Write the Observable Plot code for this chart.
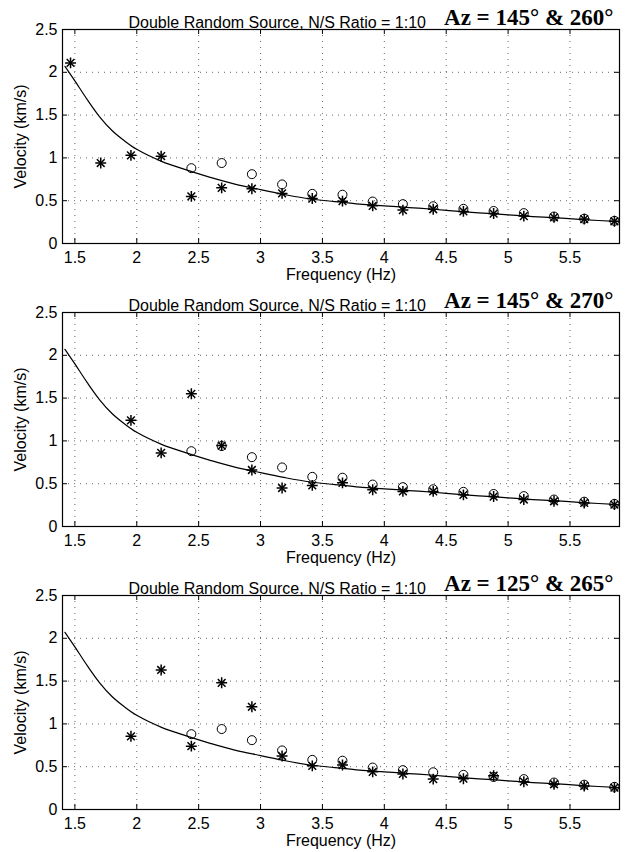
<!DOCTYPE html>
<html><head><meta charset="utf-8">
<script src="https://cdn.jsdelivr.net/npm/d3@7"></script>
<script src="https://cdn.jsdelivr.net/npm/@observablehq/plot@0.6"></script>
<style>body{margin:0;background:#fff;} #charts svg{display:block}</style>
</head><body><div id="charts"></div>
<script>
// Frequencies (Hz) of the measured points
const freq = [1.465,1.709,1.953,2.197,2.441,2.686,2.930,3.174,3.418,3.662,3.906,4.150,4.395,4.639,4.883,5.127,5.371,5.615,5.859];
// Open circles (same in all panels)
const circleV = [null,null,null,null,0.88,0.94,0.81,0.69,0.58,0.57,0.49,0.46,0.435,0.405,0.38,0.355,0.315,0.29,0.265];
// Asterisks per panel
const starV1 = [2.11,0.94,1.03,1.02,0.55,0.65,0.64,0.585,0.525,0.495,0.44,0.39,0.40,0.375,0.35,0.32,0.305,0.285,0.26];
const starV2 = [null,null,1.24,0.86,1.55,0.945,0.66,0.45,0.48,0.51,0.43,0.41,0.41,0.37,0.35,0.315,0.295,0.275,0.255];
const starV3 = [null,null,0.855,1.63,0.74,1.48,1.20,0.625,0.51,0.52,0.44,0.415,0.355,0.36,0.395,0.325,0.295,0.275,0.255];
// Theoretical dispersion curve
const curveF = [1.42,1.5,1.6,1.7,1.8,1.9,2.0,2.2,2.4,2.6,2.8,3.0,3.2,3.4,3.6,3.8,4.0,4.2,4.4,4.6,4.8,5.0,5.2,5.4,5.6,5.9];
const curveV = [2.07,1.90,1.68,1.48,1.32,1.20,1.10,0.96,0.86,0.77,0.69,0.63,0.57,0.52,0.49,0.46,0.44,0.42,0.40,0.375,0.355,0.335,0.315,0.30,0.28,0.255];
const titles = ["Double Random Source, N/S Ratio = 1:10","Double Random Source, N/S Ratio = 1:10","Double Random Source, N/S Ratio = 1:10"];
const azLabels = ["Az = 145° & 260°","Az = 145° & 270°","Az = 125° & 265°"];
const xTicks = [1.5,2,2.5,3,3.5,4,4.5,5,5.5];
const yTicks = [0,0.5,1,1.5,2,2.5];
const xLabel = "Frequency (Hz)";
const yLabel = "Velocity (km/s)";
const starSets = [starV1, starV2, starV3];

function panel(stars, title, az) {
  const W = 628, H = 283, mt = 29, mb = 40, ml = 62, mr = 9;
  const ph = H - mt - mb, pw = W - ml - mr;
  const circ = freq.map((f,i)=>({f, v: circleV[i]})).filter(d=>d.v!=null);
  const st = freq.map((f,i)=>({f, v: stars[i]})).filter(d=>d.v!=null);
  const curve = curveF.map((f,i)=>({f, v: curveV[i]}));
  const grid = {stroke:"#000", strokeOpacity:0.6, strokeDasharray:"1,5"};
  const fmt = d => String(d);
  return Plot.plot({
    width: W, height: H, marginTop: mt, marginBottom: mb, marginLeft: ml, marginRight: mr,
    style: {fontFamily: "'Liberation Sans', Arial, sans-serif", fontSize: "16px", color: "#000", background: "#fff", overflow: "visible"},
    x: {domain: [1.4, 5.9]},
    y: {domain: [0, 2.5]},
    marks: [
      Plot.gridX(xTicks, grid),
      Plot.gridY(yTicks.slice(1,-1), grid),
      Plot.ruleX(xTicks, {x: d=>d, insetTop: ph-5, stroke:"#000"}),
      Plot.ruleX(xTicks, {x: d=>d, insetBottom: ph-5, stroke:"#000"}),
      Plot.ruleY(yTicks, {y: d=>d, insetRight: pw-5, stroke:"#000"}),
      Plot.ruleY(yTicks, {y: d=>d, insetLeft: pw-5, stroke:"#000"}),
      Plot.line(curve, {x:"f", y:"v", curve:"catmull-rom", stroke:"#000", strokeWidth:1.2}),
      Plot.dot(circ, {x:"f", y:"v", r:4.5, stroke:"#000", fill:"none", strokeWidth:1}),
      Plot.dot(st, {x:"f", y:"v", symbol:"plus", r:3.6, stroke:"#000", strokeWidth:1.5}),
      Plot.dot(st, {x:"f", y:"v", symbol:"times", r:3.6, stroke:"#000", strokeWidth:1.5}),
      Plot.frame({stroke:"#000", strokeWidth:1.2}),
      Plot.axisX(xTicks, {tickSize:0, tickPadding:8, label:null, tickFormat: fmt, fontSize:16}),
      Plot.axisY(yTicks, {tickSize:0, tickPadding:5, label:null, tickFormat: fmt, fontSize:16}),
      Plot.text([title], {text: d=>d, frameAnchor:"top-left", dx:66, dy:-7, textAnchor:"start", lineAnchor:"middle", fontSize:16}),
      Plot.text([az], {text: d=>d, frameAnchor:"top-right", dx:-6, dy:-12, textAnchor:"end", lineAnchor:"middle", fontFamily:"'Liberation Serif', 'Times New Roman', serif", fontWeight:"bold", fontSize:23}),
      Plot.text([xLabel], {text: d=>d, frameAnchor:"bottom", dy:31, textAnchor:"middle", lineAnchor:"middle", fontSize:16}),
      Plot.text([yLabel], {text: d=>d, frameAnchor:"left", rotate:-90, dx:-42, textAnchor:"middle", lineAnchor:"middle", fontSize:16})
    ]
  });
}
const root = document.getElementById("charts");
for (let k = 0; k < 3; k++) root.appendChild(panel(starSets[k], titles[k], azLabels[k]));
</script>
</body></html>
